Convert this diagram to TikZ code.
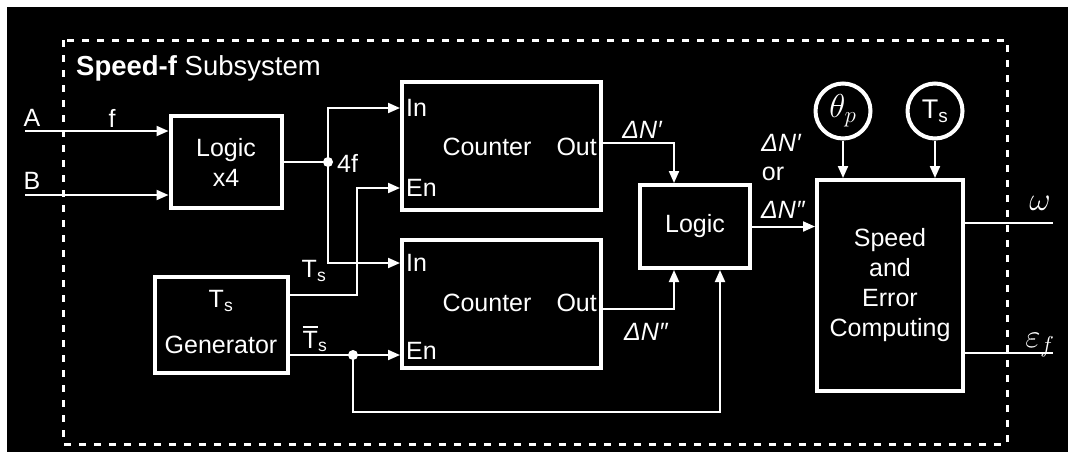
\documentclass[tikz,border=0pt]{standalone}
\usepackage{fontspec}
\setmainfont{Liberation Sans}
\usetikzlibrary{arrows.meta}
\newcommand{\simbolo}[1]{\scalebox{1.33}{$#1$}}

\begin{document}
\begin{tikzpicture}[x=1pt,y=-1pt,
    every node/.style={text=white,font=\fontsize{25}{30}\selectfont,inner sep=0pt},
    blocco/.style={draw=white,line width=4pt,fill=black},
    cerchio/.style={circle,draw=white,line width=4pt,fill=black,minimum size=55pt},
    filo/.style={white,line width=2pt},
    arr/.style={filo,-{Triangle[length=12pt,width=10pt]}},
    punto/.style={circle,fill=white,minimum size=10pt}]
    % sfondo
    \fill[white] (0,0) rectangle (1075,459);
    \fill[black] (7,7) rectangle (1068,452);
    \useasboundingbox (0,0) rectangle (1075,459);

    % riquadro tratteggiato
    \draw[white,line width=3pt,dash pattern=on 7pt off 8pt] (63,40) rectangle (1007,444);
    \node[anchor=west,font=\fontsize{27.5}{30}\selectfont] (titolo) at (76,68) {\textbf{Speed-f} Subsystem};

    % blocchi
    \node[blocco,minimum width=111pt,minimum height=92pt,align=center] (logic4) at (226,162) {Logic\\x4};

    \node[blocco,minimum width=199pt,minimum height=128pt] (cnt1) at (501.5,146) {};
    \node (cnt1txt) at (487,147) {Counter};
    \node[anchor=west] (cnt1in) at (406,108) {In};
    \node[anchor=west] (cnt1en) at (406,188) {En};
    \node[anchor=east] (cnt1out) at (597,147) {Out};

    \node[blocco,minimum width=199pt,minimum height=128pt] (cnt2) at (501.5,304) {};
    \node (cnt2txt) at (487,303) {Counter};
    \node[anchor=west] (cnt2in) at (406,263) {In};
    \node[anchor=west] (cnt2en) at (406,351) {En};
    \node[anchor=east] (cnt2out) at (597,303) {Out};

    \node[blocco,minimum width=133pt,minimum height=96pt] (gen) at (221.5,325) {};
    \node (gents) at (221,301) {T\textsubscript{s}};
    \node (gentxt) at (221,345) {Generator};

    \node[blocco,minimum width=110pt,minimum height=83pt] (logic) at (695,226.5) {Logic};

    \node[blocco,minimum width=146pt,minimum height=211pt,align=center] (spd) at (890,285.5) {Speed\\and\\Error\\Computing};

    \node[cerchio] (thp) at (843,111) {\simbolo{\theta_p}};
    \node[cerchio,font=\fontsize{27}{30}\selectfont] (tsc) at (935,111) {T\textsubscript{s}};

    % ingressi
    \coordinate (inA) at (25,131);
    \coordinate (inB) at (25,195);
    \draw[arr] (inA) -- (inA -| logic4.west);
    \draw[arr] (inB) -- (inB -| logic4.west);
    \node (lA) at (32,118) {A};
    \node (lB) at (32,181) {B};
    \node (lf) at (112,118) {f};

    % 4f
    \node[punto] (j4f) at (328,162) {};
    \draw[filo] (logic4.east |- j4f) -- (j4f.center);
    \draw[arr] (j4f.center) |- (cnt1.west |- cnt1in);
    \draw[arr] (j4f.center) |- (cnt2.west |- cnt2in);
    \node[anchor=west] (l4f) at (337,163) {4f};

    % Ts
    \coordinate (tsb) at (357,295);
    \draw[arr] (gen.east |- tsb) -- (tsb) |- (cnt1.west |- cnt1en);
    \node (lts) at (314,271) {T\textsubscript{s}};

    % Ts negato
    \node[punto] (jts) at (353,355) {};
    \draw[filo] (gen.east |- jts) -- (jts.center);
    \draw[arr] (jts.center) -- (cnt2.west |- jts);
    \node (ltsb) at (315,339) {\vbox{\hrule height 2pt\kern 3pt\hbox{T}}\textsubscript{s}};
    \coordinate (basso) at (353,412);
    \draw[arr] (jts.center) -- (basso) -| ([xshift=25pt]logic.south);

    % uscite contatori
    \draw[arr] ([yshift=3pt]cnt1.east) -| ([xshift=-21pt]logic.north);
    \draw[arr] ([yshift=-5pt]cnt2.east) -| ([xshift=-21pt]logic.south);
    \node (ldn1) at (642,130) {\itshape ΔN′};
    \node (ldn2) at (646,332) {\itshape ΔN″};

    % logica -> calcolo
    \draw[arr] (logic.east) -- (logic.east -| spd.west);
    \node (ldn3) at (781,143) {\itshape ΔN′};
    \node (lor) at (773,174) {or};
    \node (ldn4) at (783,210) {\itshape ΔN″};

    \draw[arr] (thp) -- (thp |- spd.north);
    \draw[arr] (tsc) -- (tsc |- spd.north);

    % uscite
    \coordinate (outw) at (1053,223);
    \coordinate (oute) at (1053,353);
    \draw[filo] (spd.east |- outw) -- (outw);
    \draw[filo] (spd.east |- oute) -- (oute);
    \node (lw) at (1040,203) {\simbolo{\omega}};
    \node (le) at (1040,345) {\simbolo{\varepsilon_f}};
\end{tikzpicture}
\end{document}
